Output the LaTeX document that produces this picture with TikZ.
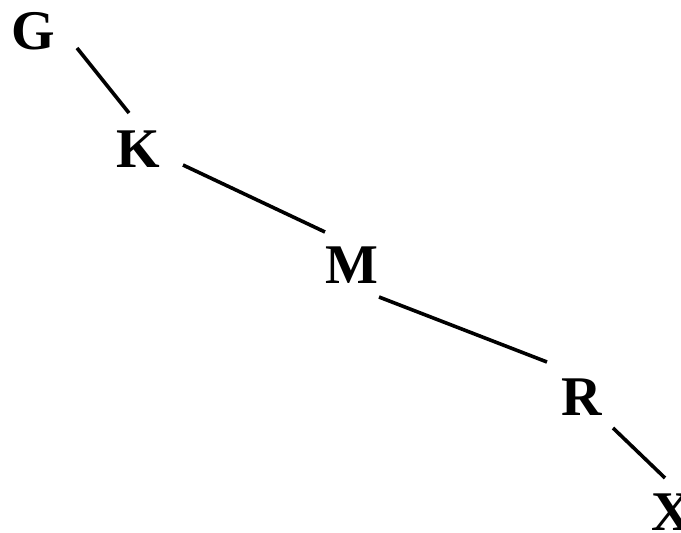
\documentclass[tikz,border=0pt]{standalone}
\usepackage{fontspec}
\setmainfont{Liberation Serif}
\begin{document}
\begin{tikzpicture}[x=1pt,y=-1pt,
  lbl/.style={font=\fontsize{56}{56}\selectfont\bfseries, inner sep=0pt, text height=37pt, text depth=0pt, anchor=center},
  link/.style={line width=3.6pt}]
\useasboundingbox (0,0) rectangle (681,533);
\node[lbl] (G) at (33.5,31) {G};
\node[lbl] (K) at (138,148.5) {K};
\node[lbl] (M) at (351.5,264.5) {M};
\node[lbl] (R) at (581.5,396.5) {R};
\node[lbl] (X) at (672,511.5) {X};
\draw[link] ([shift={(43.5,17)}]G.center) -- ([shift={(-9,-35.5)}]K.center);
\draw[link] ([shift={(45,16.5)}]K.center) -- ([shift={(-26.5,-32.5)}]M.center);
\draw[link] ([shift={(27.5,32.5)}]M.center) -- ([shift={(-34.5,-34.5)}]R.center);
\draw[link] ([shift={(31.5,31.5)}]R.center) -- ([shift={(-7,-33.5)}]X.center);
\end{tikzpicture}
\end{document}
